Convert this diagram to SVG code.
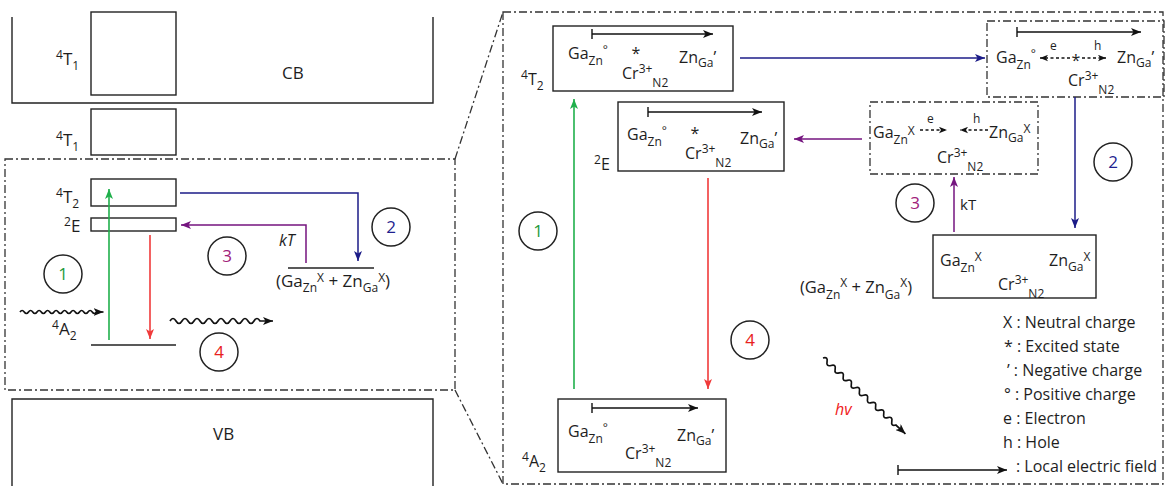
<svg xmlns="http://www.w3.org/2000/svg" width="1166" height="487" viewBox="0 0 1166 487">
<style>
text{font-family:"Open Sans","Liberation Sans",sans-serif;fill:#1e1e1e}
.m{font-size:16px}
.L{font-size:17px}
.R{font-size:16px}
.lg{font-size:16px}
.b{font-size:12px}
.bl{font-size:12px}
.box{fill:none;stroke:#222;stroke-width:1.4}
.dd{fill:none;stroke:#333;stroke-width:1.3;stroke-dasharray:8 3 2 3}
.ln{fill:none;stroke:#222;stroke-width:1.4}
.circ{fill:none;stroke:#222;stroke-width:1.5}
.num{font-size:17px;text-anchor:middle}
.blue{stroke:#1c1c88;stroke-width:1.5;fill:none}
.purp{stroke:#75157f;stroke-width:1.5;fill:none}
.grn{stroke:#20b04c;stroke-width:1.6;fill:none}
.red{stroke:#f03a3a;stroke-width:1.6;fill:none}
.blk{stroke:#111;stroke-width:1.4;fill:none}
.dash{stroke:#111;stroke-width:1.3;fill:none;stroke-dasharray:3 2.5}
.wave{stroke:#111;stroke-width:1.7;fill:none}
</style>
<defs>
<marker id="aK" viewBox="0 0 10 8" refX="10" refY="4" markerWidth="10" markerHeight="8" markerUnits="userSpaceOnUse" orient="auto"><path d="M0,0 L10,4 L0,8 L2.5,4 Z" fill="#111"/></marker>
<marker id="aKs" viewBox="0 0 10 8" refX="10" refY="4" markerWidth="8" markerHeight="7" markerUnits="userSpaceOnUse" orient="auto"><path d="M0,0 L10,4 L0,8 L2.5,4 Z" fill="#111"/></marker>
<marker id="aB" viewBox="0 0 10 8" refX="10" refY="4" markerWidth="10" markerHeight="8" markerUnits="userSpaceOnUse" orient="auto"><path d="M0,0 L10,4 L0,8 L2.5,4 Z" fill="#1c1c88"/></marker>
<marker id="aP" viewBox="0 0 10 8" refX="10" refY="4" markerWidth="10" markerHeight="8" markerUnits="userSpaceOnUse" orient="auto"><path d="M0,0 L10,4 L0,8 L2.5,4 Z" fill="#75157f"/></marker>
<marker id="aG" viewBox="0 0 10 8" refX="10" refY="4" markerWidth="10" markerHeight="8" markerUnits="userSpaceOnUse" orient="auto"><path d="M0,0 L10,4 L0,8 L2.5,4 Z" fill="#20b04c"/></marker>
<marker id="aR" viewBox="0 0 10 8" refX="10" refY="4" markerWidth="10" markerHeight="8" markerUnits="userSpaceOnUse" orient="auto"><path d="M0,0 L10,4 L0,8 L2.5,4 Z" fill="#f03a3a"/></marker>
</defs>

<!-- LEFT PANEL -->
<g id="cb">
<path class="ln" d="M12,17 V103 H433 V17"/>
<text class="L" x="282" y="79">CB</text>
</g>
<g id="t1-upper">
<rect class="box" x="91" y="12" width="85" height="83"/>
<text class="L" x="56" y="65"><tspan class="bl" dy="-6">4</tspan><tspan dy="6">T</tspan><tspan class="bl" dy="5">1</tspan></text>
</g>
<g id="t1-lower">
<rect class="box" x="91" y="109" width="85" height="46"/>
<text class="L" x="56" y="146"><tspan class="bl" dy="-6">4</tspan><tspan dy="6">T</tspan><tspan class="bl" dy="5">1</tspan></text>
</g>
<g id="zoom-frame-left">
<rect class="dd" x="5" y="159" width="450" height="231"/>
</g>
<g id="t2-left">
<rect class="box" x="91" y="179" width="85" height="27"/>
<text class="L" x="56" y="203"><tspan class="bl" dy="-6">4</tspan><tspan dy="6">T</tspan><tspan class="bl" dy="5">2</tspan></text>
</g>
<g id="e2-left">
<rect class="box" x="91" y="218" width="85" height="13"/>
<text class="L" x="64" y="232"><tspan class="bl" dy="-6">2</tspan><tspan dy="6">E</tspan></text>
</g>
<g id="a2-left">
<line class="ln" x1="91" y1="345" x2="176" y2="345"/>
<text class="L" x="52" y="335"><tspan class="bl" dy="-6">4</tspan><tspan dy="6">A</tspan><tspan class="bl" dy="5">2</tspan></text>
</g>
<g id="neutral-left">
<line class="ln" x1="288" y1="268" x2="374" y2="268"/>
<text class="L" x="276" y="287">(Ga<tspan class="bl" dy="5">Zn</tspan><tspan class="bl" dy="-10">X</tspan><tspan dy="5"> + Zn</tspan><tspan class="bl" dy="5">Ga</tspan><tspan class="bl" dy="-10">X</tspan><tspan dy="5">)</tspan></text>
</g>
<g id="vb">
<path class="ln" d="M12,486 V399 H433 V486"/>
<text class="L" x="213" y="440">VB</text>
</g>
<g id="circles-left">
<circle class="circ" cx="63" cy="274" r="19"/><text class="num" x="63" y="280" style="fill:#1f9a3c">1</text>
<circle class="circ" cx="391" cy="227" r="19"/><text class="num" x="391" y="233" style="fill:#1f1f8f">2</text>
<circle class="circ" cx="227" cy="256" r="19"/><text class="num" x="227" y="262" style="fill:#a0207a">3</text>
<circle class="circ" cx="219" cy="352" r="19"/><text class="num" x="219" y="358" style="fill:#e82020">4</text>
</g>

<!-- RIGHT PANEL -->
<g id="zoom-frame-right">
<rect class="dd" x="503" y="12" width="660" height="472"/>
<line class="dd" x1="455" y1="159" x2="503" y2="12"/>
<line class="dd" x1="455" y1="390" x2="503" y2="484"/>
</g>
<g id="t2-right">
<rect class="box" x="553" y="26" width="180" height="65"/>
<line class="blk" x1="592" y1="34" x2="713" y2="34" marker-end="url(#aK)"/><line class="blk" x1="592" y1="29" x2="592" y2="39"/>
<text class="m" x="568" y="59">Ga<tspan class="b" dy="6">Zn</tspan><tspan class="b" dy="-11">°</tspan></text>
<text class="m" x="636" y="59" text-anchor="middle">*</text>
<text class="m" x="679" y="63">Zn<tspan class="b" dy="4">Ga</tspan><tspan dy="-4">’</tspan></text>
<text class="m" x="622" y="79">Cr<tspan class="b" dy="-6">3+</tspan><tspan class="b" dy="14">N2</tspan></text>
<text class="R" x="521" y="85"><tspan class="b" dy="-6">4</tspan><tspan dy="6">T</tspan><tspan class="b" dy="5">2</tspan></text>
</g>
<g id="e2-right">
<rect class="box" x="618" y="102" width="166" height="69"/>
<line class="blk" x1="648" y1="112" x2="762" y2="112" marker-end="url(#aK)"/><line class="blk" x1="648" y1="107" x2="648" y2="117"/>
<text class="m" x="627" y="140">Ga<tspan class="b" dy="6">Zn</tspan><tspan class="b" dy="-11">°</tspan></text>
<text class="m" x="695" y="139" text-anchor="middle">*</text>
<text class="m" x="740" y="144">Zn<tspan class="b" dy="4">Ga</tspan><tspan dy="-4">’</tspan></text>
<text class="m" x="685" y="159">Cr<tspan class="b" dy="-6">3+</tspan><tspan class="b" dy="14">N2</tspan></text>
<text class="R" x="594" y="170"><tspan class="b" dy="-6">2</tspan><tspan dy="6">E</tspan></text>
</g>
<g id="excited-separated">
<rect class="dd" x="987" y="21" width="177" height="76"/>
<line class="blk" x1="1017" y1="32" x2="1141" y2="32" marker-end="url(#aK)"/><line class="blk" x1="1017" y1="27" x2="1017" y2="37"/>
<text class="m" x="996" y="63">Ga<tspan class="b" dy="6">Zn</tspan><tspan class="b" dy="-11">°</tspan></text>
<line class="dash" x1="1070" y1="58" x2="1040" y2="58" marker-end="url(#aKs)"/>
<line class="dash" x1="1082" y1="58" x2="1106" y2="58" marker-end="url(#aKs)"/>
<text class="m" x="1076" y="66" text-anchor="middle">*</text>
<text class="bl" x="1050" y="50">e</text>
<text class="bl" x="1094" y="50">h</text>
<text class="m" x="1117" y="63">Zn<tspan class="b" dy="4">Ga</tspan><tspan dy="-4">’</tspan></text>
<text class="m" x="1068" y="86">Cr<tspan class="b" dy="-6">3+</tspan><tspan class="b" dy="14">N2</tspan></text>
</g>
<g id="neutral-recombining">
<rect class="dd" x="870" y="102" width="168" height="72"/>
<text class="m" x="873" y="138">Ga<tspan class="b" dy="6">Zn</tspan><tspan class="b" dy="-9">X</tspan></text>
<line class="dash" x1="920" y1="130" x2="947" y2="130" marker-end="url(#aKs)"/>
<line class="dash" x1="988" y1="130" x2="960" y2="130" marker-end="url(#aKs)"/>
<text class="bl" x="927" y="123">e</text>
<text class="bl" x="973" y="123">h</text>
<text class="m" x="989" y="138">Zn<tspan class="b" dy="4">Ga</tspan><tspan class="b" dy="-9">X</tspan></text>
<text class="m" x="937" y="163">Cr<tspan class="b" dy="-6">3+</tspan><tspan class="b" dy="14">N2</tspan></text>
</g>
<g id="neutral-ground">
<rect class="box" x="933" y="235" width="163" height="63"/>
<text class="m" x="940" y="266">Ga<tspan class="b" dy="6">Zn</tspan><tspan class="b" dy="-11">X</tspan></text>
<text class="m" x="1049" y="266">Zn<tspan class="b" dy="5">Ga</tspan><tspan class="b" dy="-10">X</tspan></text>
<text class="m" x="998" y="290">Cr<tspan class="b" dy="-6">3+</tspan><tspan class="b" dy="14">N2</tspan></text>
<text class="m" x="800" y="293" style="font-size:16.5px">(Ga<tspan class="b" dy="6">Zn</tspan><tspan class="b" dy="-12">X</tspan><tspan dy="6"> + Zn</tspan><tspan class="b" dy="6">Ga</tspan><tspan class="b" dy="-12">X</tspan><tspan dy="6">)</tspan></text>
</g>
<g id="a2-right">
<rect class="box" x="558" y="399" width="168" height="73"/>
<line class="blk" x1="592" y1="408" x2="698" y2="408" marker-end="url(#aK)"/><line class="blk" x1="592" y1="403" x2="592" y2="413"/>
<text class="m" x="568" y="437">Ga<tspan class="b" dy="6">Zn</tspan><tspan class="b" dy="-11">°</tspan></text>
<text class="m" x="677" y="441">Zn<tspan class="b" dy="4">Ga</tspan><tspan dy="-4">’</tspan></text>
<text class="m" x="625" y="459">Cr<tspan class="b" dy="-6">3+</tspan><tspan class="b" dy="14">N2</tspan></text>
<text class="R" x="522" y="467"><tspan class="b" dy="-6">4</tspan><tspan dy="6">A</tspan><tspan class="b" dy="5">2</tspan></text>
</g>
<g id="circles-right">
<circle class="circ" cx="538" cy="231" r="19"/><text class="num" x="538" y="237" style="fill:#1f9a3c">1</text>
<circle class="circ" cx="1113" cy="162" r="19"/><text class="num" x="1113" y="168" style="fill:#1f1f8f">2</text>
<circle class="circ" cx="915" cy="203" r="19"/><text class="num" x="915" y="209" style="fill:#a0207a">3</text>
<circle class="circ" cx="750" cy="340" r="19"/><text class="num" x="750" y="346" style="fill:#e82020">4</text>
</g>
<g id="legend">
<text class="lg" x="1003" y="328">X : Neutral charge</text>
<text class="lg" x="1004" y="352">* : Excited state</text>
<text class="lg" x="1007" y="376">’ : Negative charge</text>
<text class="lg" x="1004" y="400">° : Positive charge</text>
<text class="lg" x="1003" y="424">e : Electron</text>
<text class="lg" x="1003" y="448">h : Hole</text>
<text class="lg" x="1016" y="472">: Local electric field</text>
<line class="blk" x1="898" y1="470" x2="1007" y2="470" marker-end="url(#aK)"/><line class="blk" x1="898" y1="465" x2="898" y2="475"/>
</g>

<!-- CONNECTORS -->
<g id="connectors">
<line class="grn" x1="109" y1="340" x2="109" y2="189" marker-end="url(#aG)"/>
<line class="red" x1="150" y1="235" x2="150" y2="339" marker-end="url(#aR)"/>
<path class="blue" d="M180,193 H358 V261" marker-end="url(#aB)"/>
<path class="purp" d="M306,263 V225 H181" marker-end="url(#aP)"/>
<text x="279" y="246" style="font-size:16px;font-style:italic">kT</text>
<path class="wave" d="M20,312 q2.1,-3 4.25,0 t4.25,0 t4.25,0 t4.25,0 t4.25,0 t4.25,0 t4.25,0 t4.25,0 t4.25,0 t4.25,0 t4.25,0 t4.25,0 t4.25,0 t4.25,0 t4.25,0 t4.25,0 t4.25,0 t4.25,0 l7,0" marker-end="url(#aK)"/>
<path class="wave" d="M170,321 q3,-5 6,0 t6,0 t6,0 t6,0 t6,0 t6,0 t6,0 t6,0 t6,0 t6,0 t6,0 t6,0 t6,0 t6,0 t6,0 l13,0" marker-end="url(#aK)"/>

<line class="grn" x1="574" y1="389" x2="574" y2="99" marker-end="url(#aG)"/>
<line class="red" x1="708" y1="178" x2="708" y2="389" marker-end="url(#aR)"/>
<line class="blue" x1="740" y1="58" x2="985" y2="58" marker-end="url(#aB)"/>
<line class="blue" x1="1075" y1="97" x2="1075" y2="228" marker-end="url(#aB)"/>
<line class="purp" x1="862" y1="139" x2="794" y2="139" marker-end="url(#aP)"/>
<line class="purp" x1="954" y1="232" x2="954" y2="177" marker-end="url(#aP)"/>
<text x="960" y="210" style="font-size:15px">kT</text>
<path class="wave" transform="translate(823,358) rotate(42.6)" d="M0,0 q2.75,-4.5 5.5,0 t5.5,0 t5.5,0 t5.5,0 t5.5,0 t5.5,0 t5.5,0 t5.5,0 t5.5,0 t5.5,0 t5.5,0 t5.5,0 t5.5,0 t5.5,0 t5.5,0 t5.5,0 t5.5,0 t5.5,0 l13,0" marker-end="url(#aK)"/>
<text x="835" y="415" style="font-size:16px;font-style:italic;fill:#f02020">hv</text>
</g>
</svg>
